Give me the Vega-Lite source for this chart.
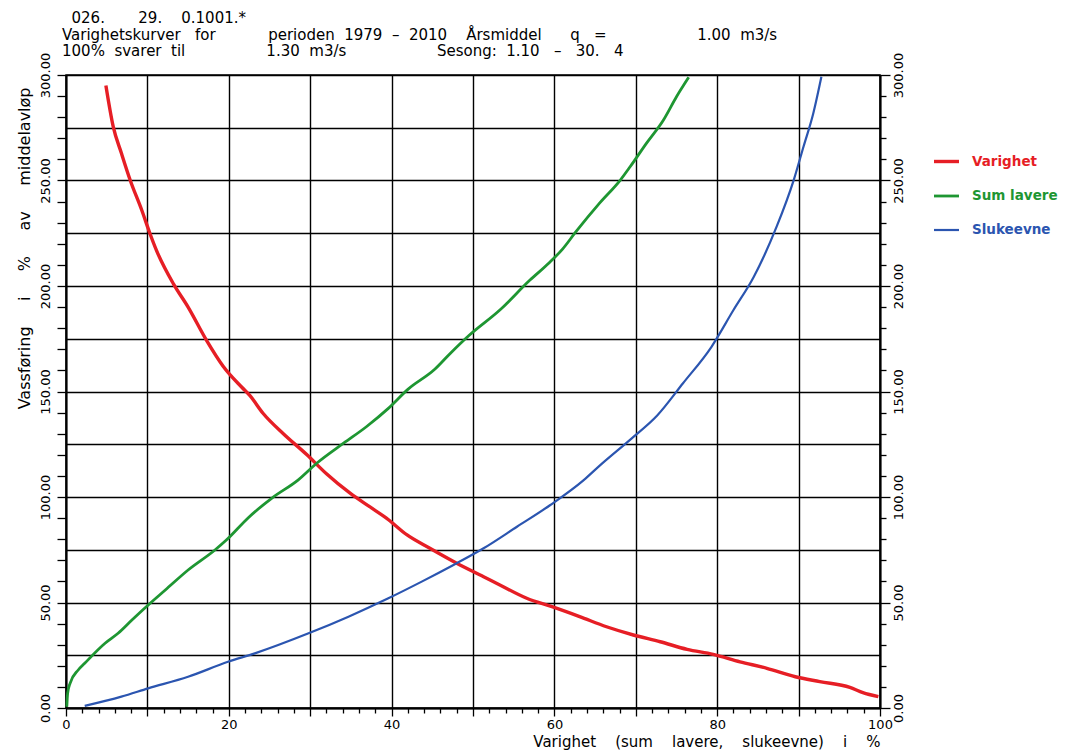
{
  "$schema": "https://vega.github.io/schema/vega-lite/v6.json",
  "width": 814,
  "height": 633,
  "autosize": "none",
  "padding": {"left": 66, "top": 75, "right": 201, "bottom": 43},
  "background": "white",
  "config": {
    "font": "DejaVu Sans",
    "view": {"stroke": "black", "strokeWidth": 1.5}
  },
  "title": {
    "text": [
      "\u200b\u00a0\u00a0026.\u00a0\u00a0\u00a0\u00a0\u00a0\u00a0\u00a029.\u00a0\u00a0\u00a0\u00a00.1001.*",
      "Varighetskurver\u00a0\u00a0\u00a0for\u00a0\u00a0\u00a0\u00a0\u00a0\u00a0\u00a0\u00a0\u00a0\u00a0\u00a0perioden\u00a0\u00a01979\u00a0\u00a0\u2013\u00a0\u00a02010\u00a0\u00a0\u00a0\u00a0Årsmiddel\u00a0\u00a0\u00a0\u00a0\u00a0\u00a0q\u00a0\u00a0\u00a0=\u00a0\u00a0\u00a0\u00a0\u00a0\u00a0\u00a0\u00a0\u00a0\u00a0\u00a0\u00a0\u00a0\u00a0\u00a0\u00a0\u00a0\u00a0\u00a01.00\u00a0\u00a0m3/s",
      "100%\u00a0\u00a0svarer\u00a0\u00a0til\u00a0\u00a0\u00a0\u00a0\u00a0\u00a0\u00a0\u00a0\u00a0\u00a0\u00a0\u00a0\u00a0\u00a0\u00a0\u00a0\u00a01.30\u00a0\u00a0m3/s\u00a0\u00a0\u00a0\u00a0\u00a0\u00a0\u00a0\u00a0\u00a0\u00a0\u00a0\u00a0\u00a0\u00a0\u00a0\u00a0\u00a0\u00a0\u00a0Sesong:\u00a0\u00a01.10\u00a0\u00a0\u00a0\u2013\u00a0\u00a0\u00a030.\u00a0\u00a0\u00a04"
    ],
    "anchor": "start",
    "frame": "group",
    "font": "DejaVu Sans",
    "fontSize": 15,
    "fontWeight": "normal",
    "color": "black",
    "lineHeight": 16.5,
    "offset": 6,
    "dx": -4,
    "dy": 13
  },
  "data": {
    "values": [
      {"s": "Varighet", "x": 4.9, "y": 295},
      {"s": "Varighet", "x": 5.8, "y": 275.5},
      {"s": "Varighet", "x": 6.8, "y": 263},
      {"s": "Varighet", "x": 7.9, "y": 250},
      {"s": "Varighet", "x": 9.3, "y": 236},
      {"s": "Varighet", "x": 10.3, "y": 225},
      {"s": "Varighet", "x": 11.1, "y": 217},
      {"s": "Varighet", "x": 13.2, "y": 201},
      {"s": "Varighet", "x": 15.0, "y": 190},
      {"s": "Varighet", "x": 17.3, "y": 174},
      {"s": "Varighet", "x": 19.3, "y": 162},
      {"s": "Varighet", "x": 21.6, "y": 152},
      {"s": "Varighet", "x": 22.6, "y": 148},
      {"s": "Varighet", "x": 24.2, "y": 139.7},
      {"s": "Varighet", "x": 26.7, "y": 130},
      {"s": "Varighet", "x": 29.6, "y": 120},
      {"s": "Varighet", "x": 32.0, "y": 111},
      {"s": "Varighet", "x": 34.9, "y": 101.8},
      {"s": "Varighet", "x": 37.3, "y": 95.4},
      {"s": "Varighet", "x": 39.4, "y": 89.9},
      {"s": "Varighet", "x": 41.9, "y": 82},
      {"s": "Varighet", "x": 44.7, "y": 75.7},
      {"s": "Varighet", "x": 48.0, "y": 68.6},
      {"s": "Varighet", "x": 51.3, "y": 62.2},
      {"s": "Varighet", "x": 53.3, "y": 58.3},
      {"s": "Varighet", "x": 56.6, "y": 52},
      {"s": "Varighet", "x": 59.7, "y": 48},
      {"s": "Varighet", "x": 63.1, "y": 43.3},
      {"s": "Varighet", "x": 66.4, "y": 38.5},
      {"s": "Varighet", "x": 69.7, "y": 34.6},
      {"s": "Varighet", "x": 73.0, "y": 31.4},
      {"s": "Varighet", "x": 76.3, "y": 27.8},
      {"s": "Varighet", "x": 79.5, "y": 25.4},
      {"s": "Varighet", "x": 82.8, "y": 21.9},
      {"s": "Varighet", "x": 86.1, "y": 18.8},
      {"s": "Varighet", "x": 89.6, "y": 14.8},
      {"s": "Varighet", "x": 92.6, "y": 12.5},
      {"s": "Varighet", "x": 96.3, "y": 9.8},
      {"s": "Varighet", "x": 97.9, "y": 7.3},
      {"s": "Varighet", "x": 99.8, "y": 5.4},
      {"s": "Sum lavere", "x": 0.1, "y": 0.6},
      {"s": "Sum lavere", "x": 0.2, "y": 7},
      {"s": "Sum lavere", "x": 0.5, "y": 11.7},
      {"s": "Sum lavere", "x": 1.5, "y": 18},
      {"s": "Sum lavere", "x": 2.3, "y": 21.2},
      {"s": "Sum lavere", "x": 4.8, "y": 30.7},
      {"s": "Sum lavere", "x": 6.4, "y": 35.4},
      {"s": "Sum lavere", "x": 8.1, "y": 41.7},
      {"s": "Sum lavere", "x": 10.1, "y": 48.8},
      {"s": "Sum lavere", "x": 12.2, "y": 55.9},
      {"s": "Sum lavere", "x": 15.0, "y": 65.4},
      {"s": "Sum lavere", "x": 18.3, "y": 74.9},
      {"s": "Sum lavere", "x": 19.7, "y": 79.6},
      {"s": "Sum lavere", "x": 22.4, "y": 90.2},
      {"s": "Sum lavere", "x": 25.3, "y": 99.5},
      {"s": "Sum lavere", "x": 28.5, "y": 108},
      {"s": "Sum lavere", "x": 30.8, "y": 116},
      {"s": "Sum lavere", "x": 34.1, "y": 125.5},
      {"s": "Sum lavere", "x": 36.9, "y": 133.3},
      {"s": "Sum lavere", "x": 39.6, "y": 142},
      {"s": "Sum lavere", "x": 42.0, "y": 151},
      {"s": "Sum lavere", "x": 45.3, "y": 160.5},
      {"s": "Sum lavere", "x": 47.2, "y": 168},
      {"s": "Sum lavere", "x": 49.5, "y": 176.5},
      {"s": "Sum lavere", "x": 53.3, "y": 188.6},
      {"s": "Sum lavere", "x": 57.0, "y": 202.8},
      {"s": "Sum lavere", "x": 59.3, "y": 210.8},
      {"s": "Sum lavere", "x": 61.0, "y": 217.5},
      {"s": "Sum lavere", "x": 62.6, "y": 225.5},
      {"s": "Sum lavere", "x": 65.6, "y": 239.5},
      {"s": "Sum lavere", "x": 68.1, "y": 250.2},
      {"s": "Sum lavere", "x": 69.3, "y": 256.5},
      {"s": "Sum lavere", "x": 71.3, "y": 267.6},
      {"s": "Sum lavere", "x": 73.4, "y": 278.7},
      {"s": "Sum lavere", "x": 75.0, "y": 289.7},
      {"s": "Sum lavere", "x": 76.5, "y": 298.9},
      {"s": "Slukeevne", "x": 2.3, "y": 1.0},
      {"s": "Slukeevne", "x": 6.8, "y": 5.4},
      {"s": "Slukeevne", "x": 10.1, "y": 9.3},
      {"s": "Slukeevne", "x": 15.0, "y": 14.8},
      {"s": "Slukeevne", "x": 19.9, "y": 21.9},
      {"s": "Slukeevne", "x": 23.2, "y": 25.9},
      {"s": "Slukeevne", "x": 29.8, "y": 35.4},
      {"s": "Slukeevne", "x": 34.7, "y": 43.3},
      {"s": "Slukeevne", "x": 39.6, "y": 52},
      {"s": "Slukeevne", "x": 43.7, "y": 59.9},
      {"s": "Slukeevne", "x": 47.6, "y": 67.8},
      {"s": "Slukeevne", "x": 51.3, "y": 75.7},
      {"s": "Slukeevne", "x": 55.4, "y": 85.9},
      {"s": "Slukeevne", "x": 59.5, "y": 96.2},
      {"s": "Slukeevne", "x": 63.6, "y": 108},
      {"s": "Slukeevne", "x": 65.6, "y": 115},
      {"s": "Slukeevne", "x": 69.5, "y": 127.8},
      {"s": "Slukeevne", "x": 72.6, "y": 138.5},
      {"s": "Slukeevne", "x": 75.8, "y": 153.9},
      {"s": "Slukeevne", "x": 79.3, "y": 171.2},
      {"s": "Slukeevne", "x": 82.0, "y": 188.6},
      {"s": "Slukeevne", "x": 84.5, "y": 204.4},
      {"s": "Slukeevne", "x": 87.3, "y": 228.1},
      {"s": "Slukeevne", "x": 89.4, "y": 250.2},
      {"s": "Slukeevne", "x": 90.6, "y": 266},
      {"s": "Slukeevne", "x": 91.8, "y": 281.8},
      {"s": "Slukeevne", "x": 92.8, "y": 299.2}
    ]
  },
  "layer": [
    {
      "mark": {"type": "line", "interpolate": "monotone"},
      "encoding": {
        "x": {
          "field": "x",
          "type": "quantitative",
          "scale": {"domain": [0, 100], "nice": false, "zero": false},
          "axis": {
            "values": [0,2,4,6,8,10,12,14,16,18,20,22,24,26,28,30,32,34,36,38,40,42,44,46,48,50,52,54,56,58,60,62,64,66,68,70,72,74,76,78,80,82,84,86,88,90,92,94,96,98,100],
            "tickCount": 1000,
            "grid": true,
            "gridColor": "black",
            "gridWidth": 1.4,
            "gridOpacity": {"condition": {"test": "datum.value % 10 === 0", "value": 1}, "value": 0},
            "domainColor": "black",
            "domainWidth": 2,
            "tickColor": "black",
            "tickWidth": 1.3,
            "tickSize": {"condition": {"test": "datum.value % 10 === 0", "value": 8}, "value": 5},
            "labelExpr": "datum.value % 20 === 0 ? format(datum.value, 'd') : ''",
            "labelFontSize": 13,
            "labelColor": "black",
            "labelPadding": 2,
            "labelFlush": false,
            "labelOverlap": false,
            "labelBound": false,
            "title": "Varighet\u00a0\u00a0\u00a0\u00a0(sum\u00a0\u00a0\u00a0\u00a0lavere,\u00a0\u00a0\u00a0\u00a0slukeevne)\u00a0\u00a0\u00a0\u00a0i\u00a0\u00a0\u00a0\u00a0%",
            "titleAnchor": "end",
            "titleFontSize": 15,
            "titleFontWeight": "normal",
            "titleColor": "black",
            "titlePadding": 3
          }
        },
        "y": {
          "field": "y",
          "type": "quantitative",
          "scale": {"domain": [0, 300], "nice": false},
          "axis": {
            "values": [0,5,10,15,20,25,30,35,40,45,50,55,60,65,70,75,80,85,90,95,100,105,110,115,120,125,130,135,140,145,150,155,160,165,170,175,180,185,190,195,200,205,210,215,220,225,230,235,240,245,250,255,260,265,270,275,280,285,290,295,300],
            "tickCount": 1000,
            "grid": true,
            "gridColor": "black",
            "gridWidth": 1.4,
            "gridOpacity": {"condition": {"test": "datum.value % 25 === 0", "value": 1}, "value": 0},
            "domainColor": "black",
            "domainWidth": 2,
            "tickColor": "black",
            "tickWidth": 1.3,
            "tickOpacity": {"condition": {"test": "datum.value % 10 === 0", "value": 1}, "value": 0},
            "tickSize": 9,
            "labelExpr": "datum.value % 50 === 0 ? format(datum.value, '.2f') : ''",
            "labelAngle": 270,
            "labelAlign": "center",
            "labelBaseline": "bottom",
            "labelFontSize": 13,
            "labelColor": "black",
            "labelPadding": 5,
            "labelFlush": false,
            "labelOverlap": false,
            "labelBound": false,
            "title": "Vassføring\u00a0\u00a0\u00a0\u00a0\u00a0i\u00a0\u00a0\u00a0\u00a0\u00a0%\u00a0\u00a0\u00a0\u00a0\u00a0av\u00a0\u00a0\u00a0\u00a0\u00a0middelavløp",
            "titleAnchor": "end",
            "titleAngle": 270,
            "titleFontSize": 16,
            "titleFontWeight": "normal",
            "titleColor": "black",
            "titlePadding": 7,
            "titleY": 12
          }
        },
        "color": {
          "field": "s",
          "type": "nominal",
          "scale": {"domain": ["Varighet", "Sum lavere", "Slukeevne"], "range": ["#e61e25", "#1e9632", "#2b55b0"]},
          "legend": {
            "title": null,
            "orient": "none",
            "legendX": 866,
            "legendY": 72,
            "symbolType": "stroke",
            "symbolSize": 625,
            "symbolStrokeWidth": 3,
            "labelFont": "DejaVu Sans",
            "labelFontSize": 13.5,
            "labelFontWeight": "bold",
            "labelOffset": 11,
            "rowPadding": 13,
            "encode": {"labels": {"update": {"fill": {"scale": "color", "field": "value"}}}}
          }
        },
        "strokeWidth": {
          "field": "s",
          "type": "nominal",
          "scale": {"domain": ["Varighet", "Sum lavere", "Slukeevne"], "range": [3.4, 2.2, 1.6]},
          "legend": null
        }
      }
    },
    {
      "mark": {"type": "line", "strokeOpacity": 0},
      "encoding": {
        "x": {"field": "x", "type": "quantitative"},
        "y": {
          "field": "y",
          "type": "quantitative",
          "axis": {
            "orient": "right",
            "values": [0,10,20,30,40,50,60,70,80,90,100,110,120,130,140,150,160,170,180,190,200,210,220,230,240,250,260,270,280,290,300],
            "tickCount": 1000,
            "grid": false,
            "domainColor": "black",
            "domainWidth": 2,
            "tickColor": "black",
            "tickWidth": 1.3,
            "tickSize": {"condition": {"test": "datum.value % 50 === 0", "value": 10}, "value": 6},
            "labelExpr": "datum.value % 50 === 0 ? format(datum.value, '.2f') : ''",
            "labelAngle": 270,
            "labelAlign": "center",
            "labelBaseline": "top",
            "labelFontSize": 13,
            "labelColor": "black",
            "labelPadding": 2,
            "labelFlush": false,
            "labelOverlap": false,
            "labelBound": false,
            "title": null
          }
        },
        "detail": {"field": "s", "type": "nominal"}
      }
    }
  ],
  "resolve": {"axis": {"y": "independent"}}
}
